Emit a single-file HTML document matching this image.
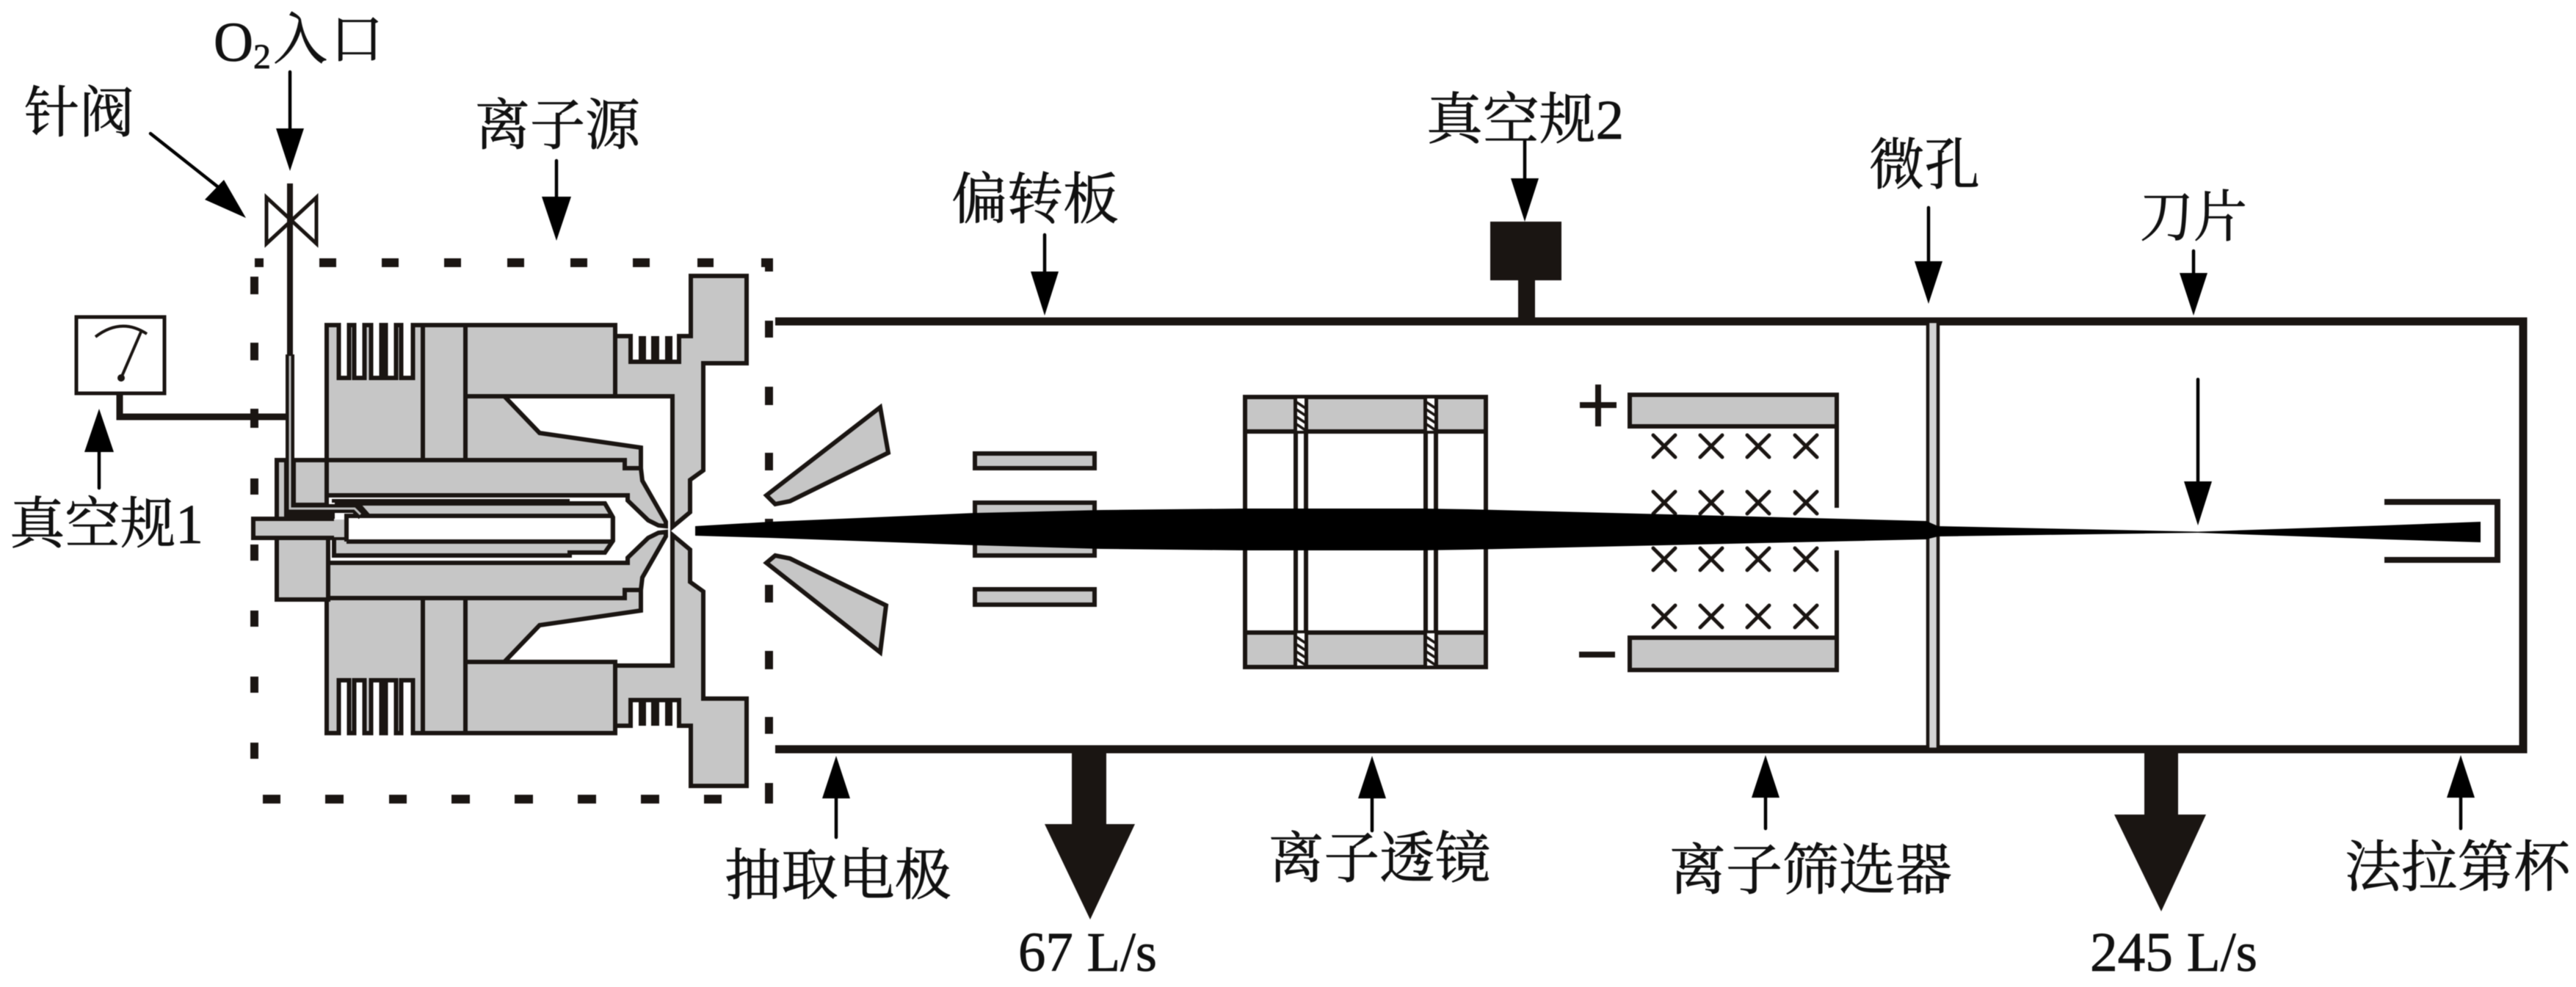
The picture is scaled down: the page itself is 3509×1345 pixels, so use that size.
<!DOCTYPE html>
<html lang="zh"><head><meta charset="utf-8"><title>diagram</title>
<style>
html,body{margin:0;padding:0;background:#fff}
svg{display:block;filter:blur(.6px)}
text{font-family:"Liberation Serif","Noto Serif CJK SC",serif;font-size:76px;fill:#111;stroke:#111;stroke-width:.8px}
.g{fill:#c6c6c6;stroke:#1a1512;stroke-width:6;stroke-linejoin:miter}
.l{fill:none;stroke:#1a1512;stroke-width:6}
.a{stroke:#000;stroke-width:4.5;stroke-linecap:round}
.d{fill:#1a1512}
</style></head><body>
<svg xmlns="http://www.w3.org/2000/svg" width="3509" height="1345" viewBox="0 0 3509 1345">
<rect width="3509" height="1345" fill="#fff"/>
<defs>
<g id="blocks">
<path class="g" d="M445 443H461.500V515H475.500V443H482.500V515H496.500V443H505.500V515H519.500V443H525.500V515H539.500V443H546.500V515H562.500V443H838V540H634V627H445Z"/>
<path class="l" d="M576 443V627M634 443V627"/>
<path class="g" d="M634 540H687L735 590L873 610V638H851V627H634Z"/>
<path class="g" d="M445 627H851V638H873L875 655L907 711V717L897 716L883 709L855 682V675H445Z"/>
<rect x="850" y="635" width="24" height="6" class="d"/>
</g>
<g id="flange">
<path class="g" d="M941 376H1017V495H958V641L940 654V698L916 718V540H838V458H859V493H925V458H941Z"/>
<path class="d" d="M870 458h10v35h-10zM887 458h11v35h-11zM906 458h10v35h-10z"/>
</g>
<g id="lensv"><path class="l" d="M1765 541V909M1779 541V909"/>
<rect x="1767" y="543" width="10" height="44" fill="#fff"/>
<rect x="1767" y="863" width="10" height="44" fill="#fff"/>
<path d="M1766 548l12 8M1766 558l12 8M1766 568l12 8M1766 578l12 8M1766 868l12 8M1766 878l12 8M1766 888l12 8M1766 898l12 8" stroke="#1a1512" stroke-width="3.500"/>
</g>
<g id="x"><path d="M-15 -15L15 15M-15 15L15 -15" stroke="#1a1512" stroke-width="5" fill="none" stroke-linecap="round"/></g>
</defs>

<!-- chamber -->
<path d="M1056 438H3437V1021H1056" fill="none" stroke="#1a1512" stroke-width="11"/>
<rect x="2068" y="382" width="23" height="56" class="d"/>
<rect x="2030" y="302" width="97" height="80" class="d"/>
<rect x="2626" y="438" width="14" height="583" fill="#d4d4d4" stroke="#1a1512" stroke-width="4.500"/>
<path class="d" d="M1460 1021h47v102h39l-61 130l-62 -130h37z"/>
<path class="d" d="M2921 1021h46v89h38l-61 132l-64 -132h41z"/>

<!-- dashed box -->
<path class="d" d="M347 352h12v12h-12zM435 352h23v12h-23zM520 352h23v12h-23zM605 352h23v12h-23zM691 352h23v12h-23zM777 352h23v12h-23zM862 352h23v12h-23zM950 352h22v12h-22zM1037 352h16v18h-11v-6h-5z
M341 377h11v24h-11zM341 467h11v24h-11zM341 557h11v26h-11zM341 652h11v22h-11zM341 742h11v22h-11zM341 832h11v22h-11zM341 922h11v22h-11zM341 1012h11v22h-11z
M358 1083h24v12h-24zM443 1083h25v12h-25zM530 1083h24v12h-24zM615 1083h25v12h-25zM701 1083h25v12h-25zM787 1083h25v12h-25zM873 1083h25v12h-25zM959 1083h24v12h-24z
M1042 437h11v23h-11zM1042 527h11v25h-11zM1042 617h11v24h-11zM1042 707h11v23h-11zM1042 797h11v24h-11zM1042 887h11v25h-11zM1042 977h11v23h-11zM1042 1067h11v28h-11z"/>

<!-- ion source -->
<use href="#blocks"/>
<use href="#blocks" transform="matrix(1 0 0 -1 0 1442)"/>
<use href="#flange"/>
<use href="#flange" transform="matrix(1 0 0 -1 0 1447)"/>
<rect x="400" y="627" width="45" height="61" class="g"/>
<rect x="377" y="627" width="13" height="80" class="g"/>
<rect x="377" y="733" width="70" height="84" class="g"/>
<!-- inner band -->
<path class="g" d="M487 686H824L835 705V737L824 753H776V757H455V733H472V703H502Z"/>
<path class="d" d="M456 683h31v5h-31zM452 680h324v5h-324z"/>
<rect x="345" y="708" width="129" height="24" fill="#c6c6c6"/>
<path class="l" d="M455 707H345V733H455"/>
<rect x="475" y="706" width="356" height="30" fill="#fff"/>
<path class="l" d="M472 704V738M472 738H834M474 703H834"/>
<path class="d" d="M390 697h66v10h-66z"/>
<path d="M395 483V693H483L493 703" fill="none" stroke="#1a1512" stroke-width="12"/>
<path d="M395 485V693H483L491 701" fill="none" stroke="#bbb" stroke-width="3"/>

<!-- gas line + gauge -->
<path d="M395 250V485" stroke="#1a1512" stroke-width="8"/>
<path d="M163 536V568H390" fill="none" stroke="#1a1512" stroke-width="9"/>
<path d="M363 269L431 332V269L363 332Z" fill="none" stroke="#1a1512" stroke-width="5"/>
<rect x="104" y="432" width="120" height="104" fill="#fff" stroke="#1a1512" stroke-width="5"/>
<path d="M130 459Q165 432 200 455" fill="none" stroke="#1a1512" stroke-width="4"/>
<path d="M165 515L193 450" stroke="#1a1512" stroke-width="4"/>
<circle cx="165" cy="515" r="5" fill="#1a1512"/>

<!-- deflector / plates -->
<path class="g" d="M1199 555L1210 617L1076 683L1056 687L1044 675Z"/>
<path class="g" d="M1199 889L1207 825L1076 761L1056 757L1044 767Z"/>
<rect x="1328" y="618" width="163" height="20" class="g"/>
<rect x="1328" y="685" width="163" height="72" class="g"/>
<rect x="1328" y="803" width="163" height="21" class="g"/>

<!-- lens -->
<rect x="1696" y="541" width="328" height="368" fill="#fff" stroke="#1a1512" stroke-width="6"/>
<rect x="1696" y="541" width="328" height="47" class="g"/>
<rect x="1696" y="862" width="328" height="47" class="g"/>
<use href="#lensv"/>
<use href="#lensv" transform="translate(177 0)"/>

<!-- filter -->
<rect x="2220" y="538" width="282" height="43" class="g"/>
<rect x="2220" y="869" width="282" height="44" class="g"/>
<path class="l" d="M2502 580V692M2502 750V869"/>
<g id="xs">
<use href="#x" x="2267" y="608"/><use href="#x" x="2331" y="608"/><use href="#x" x="2395" y="608"/><use href="#x" x="2460" y="608"/>
<use href="#x" x="2267" y="685"/><use href="#x" x="2331" y="685"/><use href="#x" x="2395" y="685"/><use href="#x" x="2460" y="685"/>
<use href="#x" x="2267" y="762"/><use href="#x" x="2331" y="762"/><use href="#x" x="2395" y="762"/><use href="#x" x="2460" y="762"/>
<use href="#x" x="2267" y="840"/><use href="#x" x="2331" y="840"/><use href="#x" x="2395" y="840"/><use href="#x" x="2460" y="840"/>
</g>
<path d="M2152 552H2202M2177 524V581M2151 892H2200" stroke="#1a1512" stroke-width="8" fill="none"/>

<!-- beam -->
<path fill="#000" d="M947 717L1050 711L1328 699L1500 695L1697 693L1937 693L2000 694L2624 710L2640 717L2994 724.500L3248 716L3379 711V739L3248 735L2994 726L2640 731L2624 735L2000 749L1937 750L1697 750L1500 748L1328 743L1050 733L947 730Z"/>

<!-- faraday cup -->
<path d="M3248 684H3402V763H3248" fill="none" stroke="#1a1512" stroke-width="8"/>

<!-- arrows -->
<g fill="#000">
<path class="a" d="M395 98V180"/><path d="M376 175H414L395 233Z"/>
<path class="a" d="M205 182L296 254"/><path d="M279 272L305 245L335 297Z"/>
<path class="a" d="M758 219V272"/><path d="M738 268H778L758 328Z"/>
<path class="a" d="M135 665V612"/><path d="M115 616H155L135 557Z"/>
<path class="a" d="M1423 320V374"/><path d="M1404 370H1442L1423 430Z"/>
<path class="a" d="M2077 192V247"/><path d="M2058 243H2096L2077 302Z"/>
<path class="a" d="M2627 283V360"/><path d="M2608 356H2646L2627 414Z"/>
<path class="a" d="M2988 342V376"/><path d="M2969 372H3007L2988 430Z"/>
<path class="a" d="M2994 517V660"/><path d="M2975 656H3013L2994 716Z"/>
<path class="a" d="M1139 1141V1084"/><path d="M1120 1088H1158L1139 1030Z"/>
<path class="a" d="M1869 1132V1084"/><path d="M1850 1088H1888L1869 1030Z"/>
<path class="a" d="M2405 1129V1083"/><path d="M2386 1087H2424L2405 1029Z"/>
<path class="a" d="M3352 1129V1083"/><path d="M3333 1087H3371L3352 1029Z"/>
</g>

<!-- labels -->
<text x="291" y="83" textLength="54" lengthAdjust="spacingAndGlyphs">O</text>
<text x="345" y="93" style="font-size:48px">2</text>
<text x="372" y="80" textLength="74" lengthAdjust="spacingAndGlyphs">入</text>
<text x="450" y="80" textLength="72" lengthAdjust="spacingAndGlyphs">口</text>
<text x="33" y="180" textLength="150" lengthAdjust="spacingAndGlyphs">针阀</text>
<text x="647" y="197" textLength="225" lengthAdjust="spacingAndGlyphs">离子源</text>
<text x="13" y="740" textLength="264" lengthAdjust="spacingAndGlyphs">真空规1</text>
<text x="1296" y="298" textLength="228" lengthAdjust="spacingAndGlyphs">偏转板</text>
<text x="1943" y="189" textLength="269" lengthAdjust="spacingAndGlyphs">真空规2</text>
<text x="2546" y="251" textLength="151" lengthAdjust="spacingAndGlyphs">微孔</text>
<text x="2915" y="322" textLength="146" lengthAdjust="spacingAndGlyphs">刀片</text>
<text x="987" y="1219" textLength="309" lengthAdjust="spacingAndGlyphs">抽取电极</text>
<text x="1728" y="1196" textLength="302" lengthAdjust="spacingAndGlyphs">离子透镜</text>
<text x="2274" y="1212" textLength="385" lengthAdjust="spacingAndGlyphs">离子筛选器</text>
<text x="3194" y="1208" textLength="307" lengthAdjust="spacingAndGlyphs">法拉第杯</text>
<text x="1387" y="1323" textLength="189" lengthAdjust="spacingAndGlyphs">67 L/s</text>
<text x="2847" y="1323" textLength="228" lengthAdjust="spacingAndGlyphs">245 L/s</text>
</svg>
</body></html>
